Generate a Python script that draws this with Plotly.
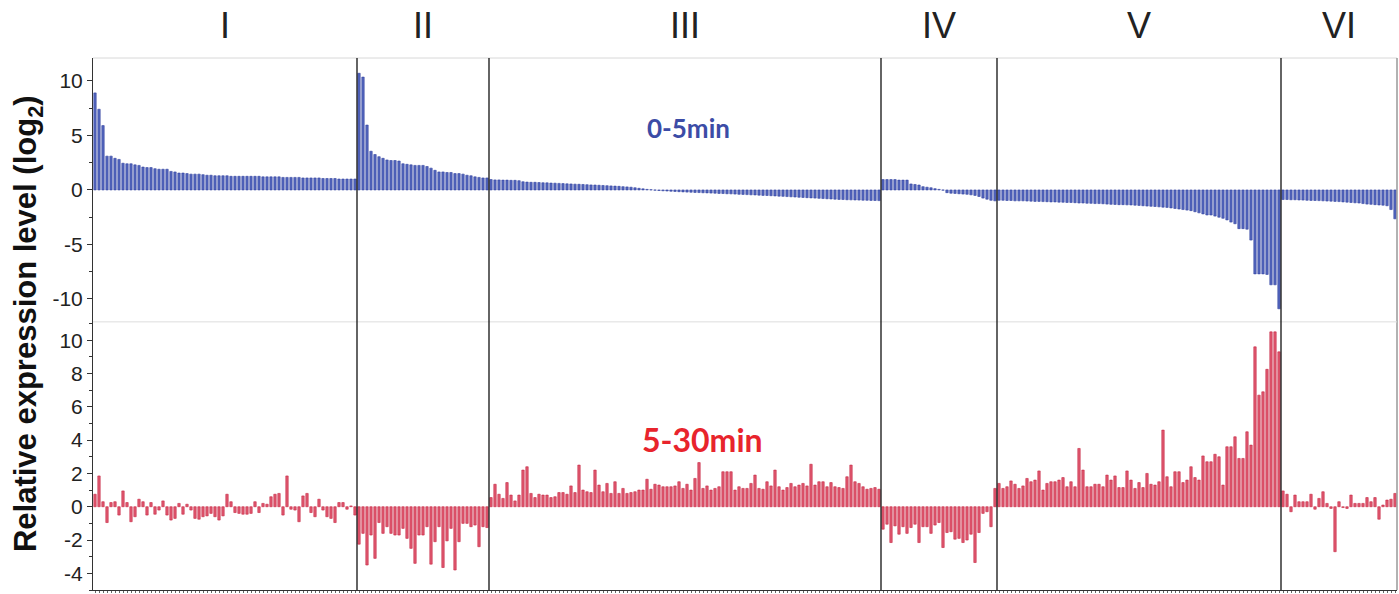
import plotly.graph_objects as go
from plotly.subplots import make_subplots

section_names = ["I", "II", "III", "IV", "V", "VI"]

# 0-5 min (top panel) values per section
top_I = [8.9, 7.4, 5.9, 3.1, 3.1, 2.9, 2.8, 2.45, 2.4, 2.4, 2.3, 2.25, 2.1, 2.05, 2.05, 1.95, 1.9,
         1.9, 1.9, 1.7, 1.65, 1.55, 1.55, 1.5, 1.45, 1.45, 1.45, 1.4, 1.35, 1.35, 1.3, 1.3, 1.3, 1.3,
         1.25, 1.25, 1.25, 1.25, 1.25, 1.25, 1.25, 1.25, 1.2, 1.2, 1.2, 1.2, 1.2, 1.15, 1.15, 1.15,
         1.15, 1.15, 1.1, 1.1, 1.1, 1.1, 1.1, 1.05, 1.05, 1.05, 1.05, 1.0, 1.0, 1.0, 1.0, 1.0]
top_II = [10.7, 10.35, 5.95, 3.55, 3.25, 3.05, 2.9, 2.75, 2.7, 2.7, 2.65, 2.4, 2.35, 2.3, 2.25, 2.25,
          2.25, 2.15, 2.0, 1.8, 1.65, 1.65, 1.6, 1.6, 1.5, 1.5, 1.45, 1.35, 1.3, 1.2, 1.15, 1.1, 1.1]
top_III = [0.95, 0.92, 0.92, 0.9, 0.9, 0.88, 0.88, 0.85, 0.75, 0.72, 0.7, 0.7, 0.68, 0.66, 0.65, 0.63,
           0.62, 0.6, 0.58, 0.56, 0.55, 0.53, 0.52, 0.5, 0.48, 0.46, 0.45, 0.43, 0.41, 0.39, 0.37, 0.35,
           0.33, 0.3, 0.28, 0.25, 0.2, 0.15, 0.1, 0.05, 0.02, -0.02, -0.05, -0.08, -0.1, -0.12, -0.14, -0.16,
           -0.18, -0.2, -0.21, -0.23, -0.24, -0.26, -0.27, -0.29, -0.3, -0.32, -0.33, -0.35, -0.36, -0.38,
           -0.4, -0.41, -0.43, -0.45, -0.46, -0.48, -0.5, -0.51, -0.53, -0.55, -0.57, -0.59, -0.61, -0.63,
           -0.65, -0.67, -0.69, -0.71, -0.73, -0.75, -0.77, -0.79, -0.81, -0.83, -0.85, -0.87, -0.88, -0.9,
           -0.91, -0.92, -0.93, -0.94, -0.95, -0.96, -0.97, -0.98]
top_IV = [0.95, 0.95, 0.95, 0.95, 0.9, 0.9, 0.9, 0.55, 0.5, 0.45, 0.3, 0.25, 0.2, 0.12, 0.05, -0.02,
          -0.25, -0.3, -0.32, -0.35, -0.38, -0.4, -0.45, -0.5, -0.6, -0.75, -0.85, -0.95, -1.0]
top_V = [-0.95, -0.95, -0.97, -0.97, -1.0, -1.0, -1.0, -1.02, -1.03, -1.05,
         -1.05, -1.07, -1.08, -1.1, -1.1, -1.12, -1.13, -1.15, -1.15, -1.17,
         -1.2, -1.2, -1.22, -1.23, -1.25, -1.25, -1.27, -1.3, -1.32, -1.33,
         -1.35, -1.35, -1.37, -1.38, -1.4, -1.42, -1.45, -1.48, -1.5, -1.52,
         -1.55, -1.58, -1.6, -1.65, -1.7, -1.75, -1.8, -1.85, -1.9, -2.0,
         -2.1, -2.2, -2.3, -2.3, -2.4, -2.5, -2.6, -2.75, -2.95, -3.1,
         -3.55, -3.55, -3.6, -4.6, -7.7, -7.7, -7.7, -7.75, -8.7, -8.7, -10.9]
top_VI = [-0.88, -0.88, -0.9, -0.9, -0.92, -0.93, -0.95, -0.96, -0.97, -0.98, -1.0, -1.02, -1.03,
          -1.05, -1.07, -1.1, -1.12, -1.15, -1.18, -1.2, -1.25, -1.3, -1.32, -1.35, -1.38, -1.4,
          -1.45, -1.8, -2.65]

# 5-30 min (bottom panel) values per section
bot_I = [0.75, 1.85, 0.3, -0.95, 0.25, 0.3, -0.5, 0.95, 0.25, -0.9, -0.6, 0.45, 0.3, -0.5, 0.25,
         -0.45, -0.2, 0.35, -0.5, -0.8, -0.7, 0.2, -0.45, 0.15, -0.2, -0.7, -0.75, -0.6, -0.55, -0.4,
         -0.6, -0.8, -0.55, 0.75, 0.3, -0.35, -0.4, -0.45, -0.45, -0.4, 0.3, -0.35, 0.2, 0.15, 0.6,
         0.75, 0.8, -0.5, 1.85, -0.15, -0.2, -0.9, 0.65, 0.8, -0.35, -0.6, 0.45, -0.2, -0.6, -0.7,
         -0.95, 0.25, 0.25, -0.15, 0.05, -0.5]
bot_II = [-2.25, -1.6, -3.5, -1.7, -3.1, -0.95, -1.6, -1.2, -1.6, -1.7, -1.7, -1.3, -1.9, -2.5, -3.4,
          -1.7, -1.7, -1.2, -3.45, -2.1, -1.2, -3.65, -2.05, -1.3, -3.8, -2.1, -1.0, -1.0, -1.2, -1.1,
          -2.4, -1.2, -1.25]
bot_III = [0.55, 1.35, 0.75, 0.5, 1.45, 0.7, 0.35, 0.7, 2.2, 2.4, 0.8, 0.55, 0.75, 0.7, 0.7, 0.55,
           0.6, 0.85, 0.85, 0.75, 1.25, 0.85, 2.5, 1.0, 0.9, 0.85, 2.2, 1.3, 0.9, 1.4, 0.8, 1.5, 0.8,
           1.1, 0.8, 0.85, 0.9, 1.0, 1.0, 1.65, 1.05, 1.35, 1.3, 1.2, 1.2, 1.2, 1.25, 1.5, 1.1, 1.35,
           1.0, 1.7, 2.65, 1.1, 1.25, 1.0, 1.1, 1.2, 2.1, 2.1, 2.1, 1.0, 1.2, 1.1, 1.1, 1.4, 1.9, 1.1,
           1.05, 1.5, 1.25, 2.2, 1.2, 1.0, 1.15, 1.4, 1.2, 1.3, 1.4, 1.25, 2.55, 1.3, 1.5, 1.5, 1.2,
           1.45, 1.2, 1.15, 1.1, 1.8, 2.5, 1.5, 1.4, 1.2, 1.05, 1.1, 1.15, 1.05]
bot_IV = [-1.35, -1.05, -2.15, -1.15, -1.65, -1.2, -1.6, -1.25, -1.05, -2.15, -1.2, -1.2, -1.6, -1.1,
          -0.95, -2.45, -1.55, -1.5, -1.95, -1.9, -2.15, -2.0, -1.65, -3.35, -1.55, -0.4, -0.3, -1.2, 1.1]
bot_V = [1.4, 1.1, 1.2, 1.55, 1.35, 1.1, 1.25, 1.7, 1.5, 1.6, 2.15,
         1.0, 1.4, 1.5, 1.5, 1.6, 1.75, 1.2, 1.5, 1.2, 3.5,
         2.2, 1.2, 1.2, 1.35, 1.35, 1.2, 1.9, 1.6, 1.85, 1.15,
         1.15, 2.15, 1.6, 1.1, 1.45, 1.15, 2.0, 1.35, 1.3, 1.5,
         4.6, 1.8, 1.2, 2.1, 2.1, 1.45, 1.6, 2.4, 1.75, 1.6,
         3.05, 2.7, 2.7, 3.15, 3.0, 1.3, 3.6, 3.6, 4.2, 2.9,
         2.9, 4.5, 3.7, 9.6, 6.7, 6.9, 8.25, 10.5, 10.5, 9.3]
bot_VI = [0.95, 0.75, -0.3, 0.7, 0.3, 0.3, 0.3, 0.75, -0.15, 0.5, 0.9, 0.2, -0.1, -2.7, 0.3, -0.05,
          -0.1, 0.7, 0.2, 0.2, 0.2, 0.55, 0.3, 0.55, -0.75, 0.1, 0.4, 0.45, 0.8]

top_tickvals = [-10, -5, 0, 5, 10]
top_ticktext = ["-10", "-5", "0", "5", "10"]
bot_tickvals = [-4, -2, 0, 2, 4, 6, 8, 10]
bot_ticktext = ["-4", "-2", "0", "2", "4", "6", "8", "10"]

top_sections = [top_I, top_II, top_III, top_IV, top_V, top_VI]
bot_sections = [bot_I, bot_II, bot_III, bot_IV, bot_V, bot_VI]

top_vals = [v for s in top_sections for v in s]
bot_vals = [v for s in bot_sections for v in s]
n = len(top_vals)
xs = list(range(n))

BLUE, BLUE_EDGE = "#5466bd", "#3041a0"
RED, RED_EDGE = "#e05a71", "#c6233f"

fig = make_subplots(rows=2, cols=1, shared_xaxes=True, vertical_spacing=0,
                    row_heights=[0.496, 0.504])
fig.add_trace(go.Bar(x=xs, y=top_vals, marker=dict(color=BLUE, line=dict(color=BLUE_EDGE, width=0.6)),
                     showlegend=False, hoverinfo="y"), row=1, col=1)
fig.add_trace(go.Bar(x=xs, y=bot_vals[:n], marker=dict(color=RED, line=dict(color=RED_EDGE, width=0.6)),
                     showlegend=False, hoverinfo="y"), row=2, col=1)

tickfont = dict(family="Liberation Sans, Arial, sans-serif", size=21, color="#222")

fig.update_xaxes(range=[-0.5, n - 0.5], showgrid=False, zeroline=False, showticklabels=False)
fig.update_xaxes(showline=True, linecolor="#333", linewidth=1, ticks="outside", ticklen=2,
                 tickcolor="#666", dtick=1, tick0=0, row=2, col=1)
fig.update_xaxes(showline=False, ticks="", row=1, col=1)

fig.update_yaxes(range=[-12.1, 12.1], tickvals=top_tickvals, ticktext=top_ticktext,
                 ticks="outside", ticklen=5, tickcolor="#333", showline=True, linecolor="#333",
                 linewidth=1, showgrid=False, zeroline=False, tickfont=tickfont,
                 minor=dict(dtick=2.5, tick0=0, ticks="outside", ticklen=3, tickcolor="#333"),
                 row=1, col=1)
fig.update_yaxes(range=[-5, 11.1], tickvals=bot_tickvals, ticktext=bot_ticktext,
                 ticks="outside", ticklen=5, tickcolor="#333", showline=True, linecolor="#333",
                 linewidth=1, showgrid=False, zeroline=False, tickfont=tickfont,
                 minor=dict(dtick=1, tick0=0, ticks="outside", ticklen=3, tickcolor="#333"),
                 row=2, col=1)

shapes = []
shapes.append(dict(type="line", xref="paper", yref="paper", x0=0, x1=1, y0=1, y1=1,
                   line=dict(color="#d8d8d8", width=1)))
shapes.append(dict(type="line", xref="paper", yref="paper", x0=1, x1=1, y0=0, y1=1,
                   line=dict(color="#999", width=1.5)))
shapes.append(dict(type="line", xref="paper", yref="paper", x0=0, x1=1, y0=0.504, y1=0.504,
                   line=dict(color="#dddddd", width=1)))

annotations = []
start = 0
for name, sec in zip(section_names, top_sections):
    end = start + len(sec)
    if end < n:
        shapes.append(dict(type="line", xref="x", yref="paper", x0=end - 0.5, x1=end - 0.5,
                           y0=0, y1=1, line=dict(color="#111", width=1.3)))
    annotations.append(dict(x=(start + end - 1) / 2, xref="x", y=1.062, yref="paper",
                            text=name, showarrow=False, xanchor="center", yanchor="middle",
                            font=dict(family="Liberation Sans, Arial, sans-serif", size=36, color="#222")))
    start = end

annotations.append(dict(x=148.3, xref="x", y=0.868, yref="paper", text="<b>0-5min</b>",
                        showarrow=False, xanchor="center", yanchor="middle",
                        font=dict(family="Lato, Open Sans, sans-serif", size=26, color="#3c4ca6")))
annotations.append(dict(x=151.8, xref="x", y=0.282, yref="paper", text="<b>5-30min</b>",
                        showarrow=False, xanchor="center", yanchor="middle",
                        font=dict(family="Lato, Open Sans, sans-serif", size=32, color="#e8242c")))
annotations.append(dict(x=-0.0498, xref="paper", y=0.5, yref="paper",
                        text="<b>Relative expression level (log<sub>2</sub>)</b>", textangle=-90,
                        showarrow=False, xanchor="center", yanchor="middle",
                        font=dict(family="Liberation Sans, Arial, sans-serif", size=31, color="#111")))

fig.update_layout(width=1399, height=594, margin=dict(l=93, r=2, t=58, b=4),
                  paper_bgcolor="white", plot_bgcolor="white", bargap=0.4,
                  shapes=shapes, annotations=annotations)

fig.write_html("out.html", config={"displayModeBar": False},
               post_script="document.body.style.margin='0px';"
                           "document.documentElement.style.overflow='hidden';"
                           "document.body.style.overflow='hidden';")
